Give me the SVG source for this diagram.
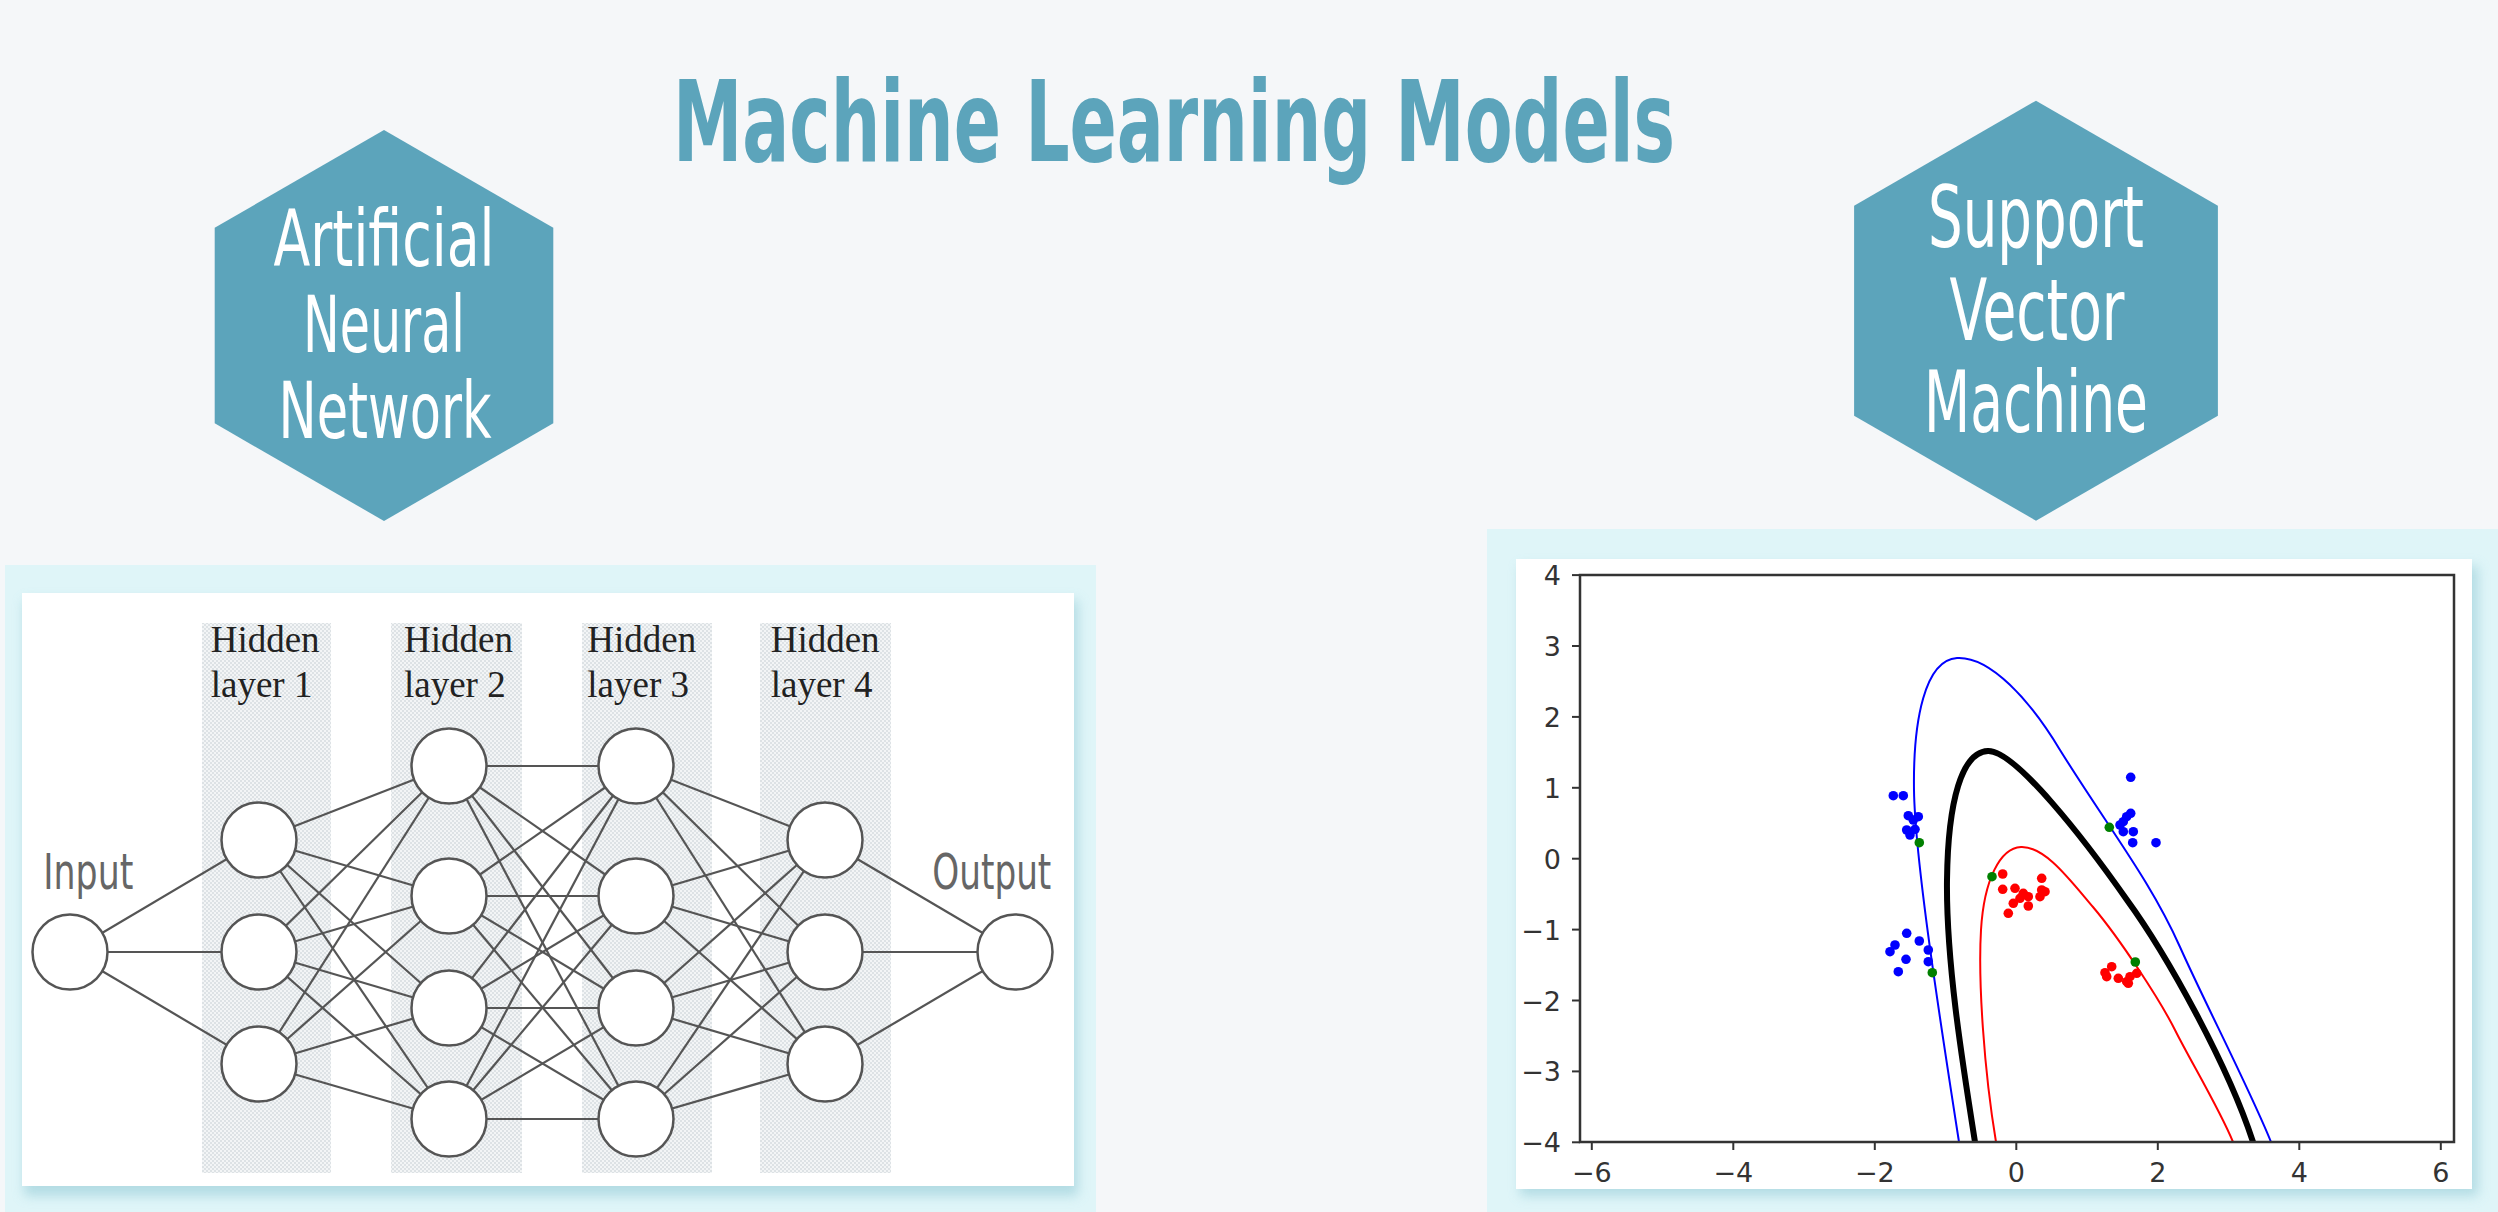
<svg xmlns="http://www.w3.org/2000/svg" width="2498" height="1212" viewBox="0 0 2498 1212">
<defs>
<style>
.title{font-family:"Liberation Sans Narrow","DejaVu Sans Condensed","Liberation Sans",sans-serif;font-weight:bold;font-size:90px;fill:#5ca4bb;text-anchor:middle}
.hex{fill:#5ca4bb}
.hext{font-family:"Liberation Sans Narrow","DejaVu Sans Condensed","Liberation Sans",sans-serif;fill:#ffffff;text-anchor:middle}
.io{font-family:"Liberation Sans Narrow","DejaVu Sans Condensed","Liberation Sans",sans-serif;font-size:50px;fill:#666666}
.hid{font-family:"Liberation Serif",serif;font-size:37px;fill:#222222}
.node{fill:#ffffff;stroke:#555555;stroke-width:2.5}
.edge{stroke:#555555;stroke-width:2.2}
.tick{font-family:"DejaVu Sans",sans-serif;font-size:27px;fill:#333333}
.frame{fill:#dff5f8}
.shadow{fill:#a8d6df;opacity:0.8}
.band{fill:url(#dots)}
.bd{fill:#0000ff}
.rd{fill:#ff0000}
.gd{fill:#008000}
</style>
<pattern id="dots" width="4" height="4" patternUnits="userSpaceOnUse"><rect width="4" height="4" fill="#f3f5f6"/><rect width="2" height="2" fill="#dde2e5"/><rect x="2" y="2" width="2" height="2" fill="#dde2e5"/></pattern>
<filter id="blur" x="-5%" y="-5%" width="110%" height="115%"><feGaussianBlur stdDeviation="6"/></filter>
<clipPath id="plot"><rect x="1580" y="575" width="874" height="567"/></clipPath>
</defs>
<rect width="2498" height="1212" fill="#f5f7f9"/>

<g id="title">
<text class="title" transform="translate(1174,161) scale(1,1.244)" textLength="1002" lengthAdjust="spacingAndGlyphs">Machine Learning Models</text>
</g>

<g id="ann-hex">
<polygon class="hex" points="384,130 553.3,227.8 553.3,423.3 384,521 214.7,423.3 214.7,227.8"/>
<text class="hext" transform="translate(384,266) scale(1,1.219)" font-size="64" textLength="221" lengthAdjust="spacingAndGlyphs">Artificial</text>
<text class="hext" transform="translate(384,352) scale(1,1.219)" font-size="64" textLength="162" lengthAdjust="spacingAndGlyphs">Neural</text>
<text class="hext" transform="translate(385,438) scale(1,1.219)" font-size="64" textLength="213" lengthAdjust="spacingAndGlyphs">Network</text>
</g>

<g id="svm-hex">
<polygon class="hex" points="2036,100.7 2217.9,205.7 2217.9,415.7 2036,520.7 1854.1,415.7 1854.1,205.7"/>
<text class="hext" transform="translate(2036,247) scale(1,1.162)" font-size="74" textLength="216" lengthAdjust="spacingAndGlyphs">Support</text>
<text class="hext" transform="translate(2037,340) scale(1,1.162)" font-size="74" textLength="175" lengthAdjust="spacingAndGlyphs">Vector</text>
<text class="hext" transform="translate(2036,432) scale(1,1.162)" font-size="74" textLength="224" lengthAdjust="spacingAndGlyphs">Machine</text>
</g>

<g id="ann-panel">
<rect class="frame" x="5" y="565" width="1091" height="650"/>
<rect class="shadow" x="24" y="600" width="1054" height="596" filter="url(#blur)"/>
<rect x="22" y="593" width="1052" height="593" fill="#ffffff"/>
<rect class="band" x="202" y="623" width="129" height="550"/>
<rect class="band" x="391" y="623" width="131" height="550"/>
<rect class="band" x="582" y="623" width="130" height="550"/>
<rect class="band" x="760" y="623" width="131" height="550"/>
<text class="hid" x="210.7" y="652.3">Hidden</text>
<text class="hid" x="210.7" y="696.7">layer 1</text>
<text class="hid" x="404" y="652.3">Hidden</text>
<text class="hid" x="404" y="696.7">layer 2</text>
<text class="hid" x="587.3" y="652.3">Hidden</text>
<text class="hid" x="587.3" y="696.7">layer 3</text>
<text class="hid" x="770.7" y="652.3">Hidden</text>
<text class="hid" x="770.7" y="696.7">layer 4</text>
<text class="io" x="43.3" y="889" textLength="90" lengthAdjust="spacingAndGlyphs">Input</text>
<text class="io" x="932.3" y="889" textLength="119" lengthAdjust="spacingAndGlyphs">Output</text>
</g>

<g id="connectors">
<line class="edge" x1="70" y1="952" x2="259" y2="840"/>
<line class="edge" x1="70" y1="952" x2="259" y2="952"/>
<line class="edge" x1="70" y1="952" x2="259" y2="1064"/>
<line class="edge" x1="259" y1="840" x2="449" y2="766"/>
<line class="edge" x1="259" y1="840" x2="449" y2="896"/>
<line class="edge" x1="259" y1="840" x2="449" y2="1008"/>
<line class="edge" x1="259" y1="840" x2="449" y2="1119"/>
<line class="edge" x1="259" y1="952" x2="449" y2="766"/>
<line class="edge" x1="259" y1="952" x2="449" y2="896"/>
<line class="edge" x1="259" y1="952" x2="449" y2="1008"/>
<line class="edge" x1="259" y1="952" x2="449" y2="1119"/>
<line class="edge" x1="259" y1="1064" x2="449" y2="766"/>
<line class="edge" x1="259" y1="1064" x2="449" y2="896"/>
<line class="edge" x1="259" y1="1064" x2="449" y2="1008"/>
<line class="edge" x1="259" y1="1064" x2="449" y2="1119"/>
<line class="edge" x1="449" y1="766" x2="636" y2="766"/>
<line class="edge" x1="449" y1="766" x2="636" y2="896"/>
<line class="edge" x1="449" y1="766" x2="636" y2="1008"/>
<line class="edge" x1="449" y1="766" x2="636" y2="1119"/>
<line class="edge" x1="449" y1="896" x2="636" y2="766"/>
<line class="edge" x1="449" y1="896" x2="636" y2="896"/>
<line class="edge" x1="449" y1="896" x2="636" y2="1008"/>
<line class="edge" x1="449" y1="896" x2="636" y2="1119"/>
<line class="edge" x1="449" y1="1008" x2="636" y2="766"/>
<line class="edge" x1="449" y1="1008" x2="636" y2="896"/>
<line class="edge" x1="449" y1="1008" x2="636" y2="1008"/>
<line class="edge" x1="449" y1="1008" x2="636" y2="1119"/>
<line class="edge" x1="449" y1="1119" x2="636" y2="766"/>
<line class="edge" x1="449" y1="1119" x2="636" y2="896"/>
<line class="edge" x1="449" y1="1119" x2="636" y2="1008"/>
<line class="edge" x1="449" y1="1119" x2="636" y2="1119"/>
<line class="edge" x1="636" y1="766" x2="825" y2="840"/>
<line class="edge" x1="636" y1="766" x2="825" y2="952"/>
<line class="edge" x1="636" y1="766" x2="825" y2="1064"/>
<line class="edge" x1="636" y1="896" x2="825" y2="840"/>
<line class="edge" x1="636" y1="896" x2="825" y2="952"/>
<line class="edge" x1="636" y1="896" x2="825" y2="1064"/>
<line class="edge" x1="636" y1="1008" x2="825" y2="840"/>
<line class="edge" x1="636" y1="1008" x2="825" y2="952"/>
<line class="edge" x1="636" y1="1008" x2="825" y2="1064"/>
<line class="edge" x1="636" y1="1119" x2="825" y2="840"/>
<line class="edge" x1="636" y1="1119" x2="825" y2="952"/>
<line class="edge" x1="636" y1="1119" x2="825" y2="1064"/>
<line class="edge" x1="825" y1="840" x2="1015" y2="952"/>
<line class="edge" x1="825" y1="952" x2="1015" y2="952"/>
<line class="edge" x1="825" y1="1064" x2="1015" y2="952"/>
</g>

<g id="node-input"><circle class="node" cx="70" cy="952" r="37.5"/></g>
<g id="node-h1"><circle class="node" cx="259" cy="840" r="37.5"/><circle class="node" cx="259" cy="952" r="37.5"/><circle class="node" cx="259" cy="1064" r="37.5"/></g>
<g id="node-h2"><circle class="node" cx="449" cy="766" r="37.5"/><circle class="node" cx="449" cy="896" r="37.5"/><circle class="node" cx="449" cy="1008" r="37.5"/><circle class="node" cx="449" cy="1119" r="37.5"/></g>
<g id="node-h3"><circle class="node" cx="636" cy="766" r="37.5"/><circle class="node" cx="636" cy="896" r="37.5"/><circle class="node" cx="636" cy="1008" r="37.5"/><circle class="node" cx="636" cy="1119" r="37.5"/></g>
<g id="node-h4"><circle class="node" cx="825" cy="840" r="37.5"/><circle class="node" cx="825" cy="952" r="37.5"/><circle class="node" cx="825" cy="1064" r="37.5"/></g>
<g id="node-output"><circle class="node" cx="1015" cy="952" r="37.5"/></g>

<g id="svm-panel">
<rect class="frame" x="1487" y="529" width="1015" height="690"/>
<rect class="shadow" x="1520" y="566" width="958" height="630" filter="url(#blur)"/>
<rect x="1516" y="559" width="956" height="630" fill="#ffffff"/>
<g clip-path="url(#plot)" fill="none" stroke-linejoin="round">
<path stroke="#0000ff" stroke-width="2" d="M1959,1142 C1940,1020 1915,860 1914,790 C1913,720 1925,660 1957,658 C1990,656 2030,700 2060,750 C2110,830 2150,880 2180,947 C2205,1003 2250,1090 2271,1142"/>
<path stroke="#000000" stroke-width="6" d="M1975,1142 C1962,1060 1946,960 1947,880 C1948,800 1962,752 1988,751 C2015,750 2085,840 2127,900 C2167,955 2228,1065 2253,1142"/>
<path stroke="#ff0000" stroke-width="2" d="M1996,1142 C1984,1070 1978,980 1981,930 C1984,880 2000,848 2021,847 C2045,846 2070,880 2093,907 C2120,939 2160,1000 2175,1030 C2190,1060 2220,1110 2233,1142"/>
</g>
<g>
<circle class="bd" cx="1893.3" cy="795.7" r="4.8"/><circle class="bd" cx="1903.3" cy="795.7" r="4.8"/>
<circle class="bd" cx="1908.3" cy="815.7" r="4.8"/><circle class="bd" cx="1918.3" cy="816.7" r="4.8"/>
<circle class="bd" cx="1913.3" cy="820" r="4.8"/><circle class="bd" cx="1906.7" cy="830" r="4.8"/>
<circle class="bd" cx="1915" cy="829.3" r="4.8"/><circle class="bd" cx="1910" cy="835" r="4.8"/>
<circle class="bd" cx="1906.7" cy="933.3" r="4.8"/><circle class="bd" cx="1895" cy="945" r="4.8"/>
<circle class="bd" cx="1890" cy="951.7" r="4.8"/><circle class="bd" cx="1919.3" cy="941" r="4.8"/>
<circle class="bd" cx="1928.3" cy="950" r="4.8"/><circle class="bd" cx="1906" cy="959.3" r="4.8"/>
<circle class="bd" cx="1928.3" cy="961.7" r="4.8"/><circle class="bd" cx="1898.3" cy="971.7" r="4.8"/>
<circle class="bd" cx="2130.7" cy="777.3" r="4.8"/><circle class="bd" cx="2130.7" cy="813.3" r="4.8"/>
<circle class="bd" cx="2126.7" cy="816.7" r="4.8"/><circle class="bd" cx="2123.3" cy="821.7" r="4.8"/>
<circle class="bd" cx="2120" cy="825" r="4.8"/><circle class="bd" cx="2123.3" cy="831.7" r="4.8"/>
<circle class="bd" cx="2133.3" cy="831.7" r="4.8"/><circle class="bd" cx="2132.7" cy="842.7" r="4.8"/>
<circle class="bd" cx="2156" cy="842.7" r="4.8"/>
<circle class="rd" cx="2002.7" cy="874" r="4.8"/><circle class="rd" cx="2041.7" cy="878.3" r="4.8"/>
<circle class="rd" cx="2002.7" cy="889.3" r="4.8"/><circle class="rd" cx="2015" cy="888.3" r="4.8"/>
<circle class="rd" cx="2023.3" cy="893.3" r="4.8"/><circle class="rd" cx="2041.7" cy="890" r="4.8"/>
<circle class="rd" cx="2045" cy="891.7" r="4.8"/><circle class="rd" cx="2020" cy="898.3" r="4.8"/>
<circle class="rd" cx="2028.3" cy="896.7" r="4.8"/><circle class="rd" cx="2013.3" cy="903.3" r="4.8"/>
<circle class="rd" cx="2028.3" cy="906" r="4.8"/><circle class="rd" cx="2040" cy="896.7" r="4.8"/>
<circle class="rd" cx="2008.3" cy="913.3" r="4.8"/>
<circle class="rd" cx="2105" cy="972.7" r="4.8"/><circle class="rd" cx="2111.7" cy="966.7" r="4.8"/>
<circle class="rd" cx="2106.7" cy="976.7" r="4.8"/><circle class="rd" cx="2118.3" cy="978.3" r="4.8"/>
<circle class="rd" cx="2126.7" cy="981.7" r="4.8"/><circle class="rd" cx="2130" cy="976.7" r="4.8"/>
<circle class="rd" cx="2136.7" cy="973.3" r="4.8"/><circle class="rd" cx="2128.3" cy="983.3" r="4.8"/>
<circle class="gd" cx="1919.3" cy="842.7" r="4.8"/><circle class="gd" cx="1932.3" cy="972.7" r="4.8"/>
<circle class="gd" cx="2109.3" cy="827.3" r="4.8"/><circle class="gd" cx="1992" cy="876.7" r="4.8"/>
<circle class="gd" cx="2135.3" cy="962" r="4.8"/>
</g>
<rect x="1580" y="575" width="874" height="567" fill="none" stroke="#333333" stroke-width="2.5"/>
<g stroke="#333333" stroke-width="2">
<line x1="1572" y1="575.1" x2="1580" y2="575.1"/><line x1="1572" y1="646" x2="1580" y2="646"/>
<line x1="1572" y1="716.9" x2="1580" y2="716.9"/><line x1="1572" y1="787.8" x2="1580" y2="787.8"/>
<line x1="1572" y1="858.7" x2="1580" y2="858.7"/><line x1="1572" y1="929.6" x2="1580" y2="929.6"/>
<line x1="1572" y1="1000.5" x2="1580" y2="1000.5"/><line x1="1572" y1="1071.4" x2="1580" y2="1071.4"/>
<line x1="1572" y1="1142.3" x2="1580" y2="1142.3"/>
<line x1="1591.8" y1="1142" x2="1591.8" y2="1150"/><line x1="1733.3" y1="1142" x2="1733.3" y2="1150"/>
<line x1="1874.8" y1="1142" x2="1874.8" y2="1150"/><line x1="2016.3" y1="1142" x2="2016.3" y2="1150"/>
<line x1="2157.8" y1="1142" x2="2157.8" y2="1150"/><line x1="2299.3" y1="1142" x2="2299.3" y2="1150"/>
<line x1="2440.8" y1="1142" x2="2440.8" y2="1150"/>
</g>
<g class="tick" text-anchor="end">
<text x="1561" y="585">4</text><text x="1561" y="656">3</text><text x="1561" y="727">2</text>
<text x="1561" y="798">1</text><text x="1561" y="869">0</text><text x="1561" y="940">−1</text>
<text x="1561" y="1011">−2</text><text x="1561" y="1081">−3</text><text x="1561" y="1152">−4</text>
</g>
<g class="tick" text-anchor="middle">
<text x="1591.8" y="1182">−6</text><text x="1733.3" y="1182">−4</text><text x="1874.8" y="1182">−2</text>
<text x="2016.3" y="1182">0</text><text x="2157.8" y="1182">2</text><text x="2299.3" y="1182">4</text>
<text x="2440.8" y="1182">6</text>
</g>
</g>
</svg>
